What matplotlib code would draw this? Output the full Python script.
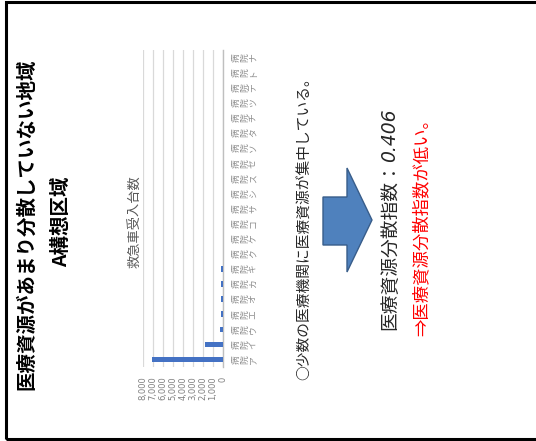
import matplotlib
matplotlib.use("Agg")
import matplotlib.pyplot as plt
from matplotlib.patches import Polygon, Rectangle

plt.rcParams['font.family'] = ['Noto Sans CJK JP', 'DejaVu Sans']

W, H = 536, 441

# 病院別の救急車受入台数
hospitals = ['ア', 'イ', 'ウ', 'エ', 'オ', 'カ', 'キ', 'ク', 'ケ', 'コ', 'サ',
             'シ', 'ス', 'セ', 'ソ', 'タ', 'チ', 'ツ', 'テ', 'ト', 'ナ']
accepted = [7100, 1830, 300, 220, 180, 170, 160, 20, 0, 0, 0,
            0, 0, 0, 0, 0, 0, 0, 0, 0, 0]
value_ticks = [0, 1000, 2000, 3000, 4000, 5000, 6000, 7000, 8000]
dispersion_index = 0.406


def fx(x):
    return x / W


def fy(y):
    return 1 - y / H


fig = plt.figure(figsize=(W / 100, H / 100), dpi=100)
fig.patch.set_facecolor('white')

# slide frame
fig.patches.append(Rectangle((fx(6), fy(439)), fx(545) - fx(6), fy(2) - fy(439),
                             transform=fig.transFigure, fill=False,
                             edgecolor='black', linewidth=2.2))

# bar chart (slide is turned sideways, so bars grow to the left)
ax = fig.add_axes([fx(143), fy(367), fx(223) - fx(143), fy(50) - fy(367)])
pos = list(range(len(hospitals)))
ax.barh(pos, accepted, height=0.36, color='#4472C4', zorder=3)
ax.set_xlim(8000, 0)
ax.set_ylim(-0.5, len(hospitals) - 0.5)
ax.set_xticks(value_ticks)
ax.set_xticklabels([f'{v:,}' for v in value_ticks], rotation=90,
                   fontsize=6, color='#808080', family=['DejaVu Sans'])
ax.yaxis.tick_right()
ax.set_yticks(pos)
ax.set_yticklabels(['病\n院\n' + h for h in hospitals], rotation=90,
                   fontsize=6.3, color='#8c8c8c', linespacing=0.95,
                   va='center', ha='left')
ax.tick_params(axis='both', length=0)
ax.tick_params(axis='x', pad=7)
ax.tick_params(axis='y', pad=6)
ax.grid(axis='x', color='#d9d9d9', linewidth=0.9, zorder=0)
for side in ['left', 'top', 'bottom']:
    ax.spines[side].set_visible(False)
ax.spines['right'].set_color('#bfbfbf')
ax.spines['right'].set_linewidth(1.0)

fig.text(fx(136), fy(222), '救急車受入台数', rotation=90, fontsize=9.5,
         color='#595959', ha='center', va='center')

# titles
fig.text(fx(27), fy(224), '医療資源があまり分散していない地域', rotation=90,
         fontsize=14, fontweight='bold', ha='center', va='center')
fig.text(fx(62), fy(222), 'A構想区域', rotation=90,
         fontsize=14, fontweight='bold', ha='center', va='center')

# commentary
fig.text(fx(305), fy(225), '○少数の医療機関に医療資源が集中している。', rotation=90,
         fontsize=10.6, color='#262626', ha='center', va='center')

arrow = [(323, 197), (347, 197), (347, 168), (372, 220), (347, 272),
         (347, 245), (323, 245)]
fig.patches.append(Polygon([(fx(x), fy(y)) for x, y in arrow], closed=True,
                           transform=fig.transFigure, facecolor='#4F81BD',
                           edgecolor='#385D8A', linewidth=1.0))

fig.text(fx(390), fy(330), '医療資源分散指数：', rotation=90, fontsize=13.5,
         color='#262626', ha='center', va='bottom')
fig.text(fx(390), fy(108), f'{dispersion_index:.3f}', rotation=90, fontsize=13.5,
         color='#262626', ha='center', va='top', family=['DejaVu Sans'],
         style='italic')
fig.text(fx(422), fy(223), '⇒医療資源分散指数が低い。', rotation=90, fontsize=12.5,
         color='#ff0000', ha='center', va='center')

fig.savefig('out.png', dpi=100, facecolor='white')
